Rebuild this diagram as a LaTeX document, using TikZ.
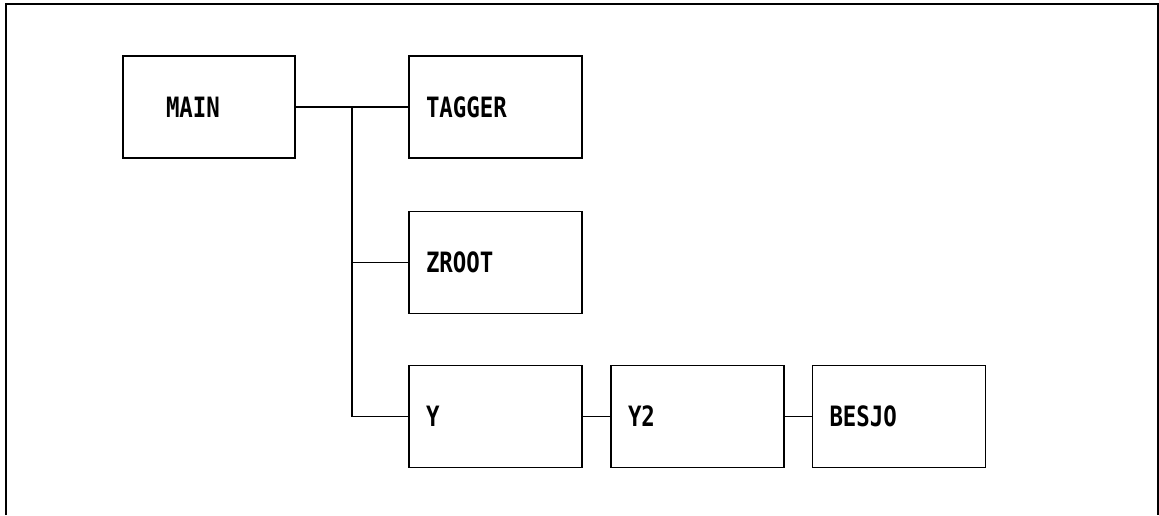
\documentclass[tikz,border=0pt]{standalone}
\usepackage{fontspec}
\newfontfamily\plotfont[FakeStretch=0.8]{DejaVu Sans Mono}
\begin{document}
\begin{tikzpicture}[x=1pt,y=-1pt,
  line width=1.2pt,
  every node/.style={font=\plotfont\bfseries\fontsize{28}{30}\selectfont},
  box/.style={draw,minimum height=102pt,text width=139pt,inner xsep=17pt,align=left},
  mainbox/.style={box,text width=86pt,inner xsep=43pt}]
\useasboundingbox (0,0) rectangle (1159,515);
% frame, open at the bottom
\draw (6,515) -- (6,4) -- (1158,4) -- (1158,515);
\node[mainbox] (main)   at (209,107)   {MAIN};
\node[box]     (tagger) at (495.5,107) {TAGGER};
\node[box]     (zroot)  at (495.5,262.5) {ZROOT};
\node[box]     (y)      at (495.5,416.5) {Y};
\node[box]     (y2)     at (697.5,416.5) {Y2};
\node[box]     (besjo)  at (899,416.5) {BESJO};
\coordinate (fork) at (352,0);
\draw (main.east) -- (tagger.west);
\draw (fork |- tagger.west) -- (fork |- y.west) -- (y.west);
\draw (fork |- zroot.west) -- (zroot.west);
\draw (y.east) -- (y2.west);
\draw (y2.east) -- (besjo.west);
\end{tikzpicture}
\end{document}
